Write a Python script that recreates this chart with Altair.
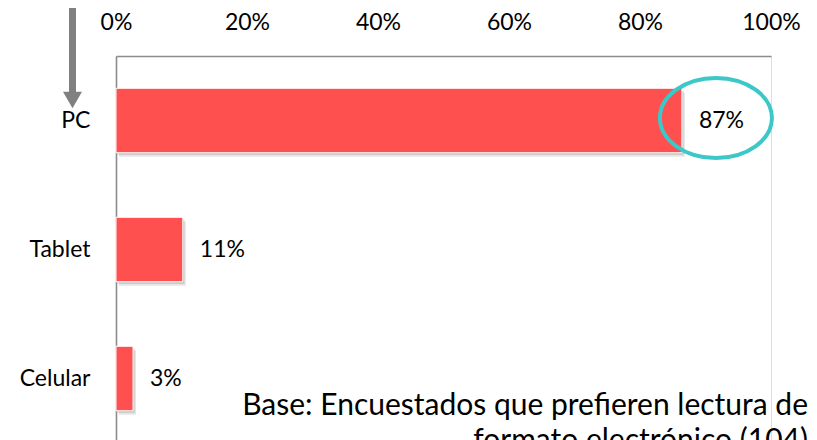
import altair as alt
import pandas as pd

# ---- data ----
categories = ["PC", "Tablet", "Celular"]
shares = [0.864, 0.102, 0.026]
share_labels = ["87%", "11%", "3%"]
x_ticks = [0, 0.2, 0.4, 0.6, 0.8, 1.0]
note_lines = ["Base: Encuestados que prefieren lectura de", "formato electrónico (104)"]
highlight = ["PC"]

df = pd.DataFrame({"device": categories, "share": shares, "label": share_labels})
df_hl = df[df["device"].isin(highlight)]
one = pd.DataFrame({"k": [0]})

FONT = "Lato"
RED = "#FF5050"
TEAL = "#3CC8C8"
GRAY = "#8C8C8C"

x_enc = alt.X(
    "share:Q",
    scale=alt.Scale(domain=[0, 1], nice=False, zero=True),
    axis=alt.Axis(
        orient="top", values=x_ticks, format=".0%", title=None, grid=False,
        ticks=False, tickSize=0, labelPadding=27, labelBaseline="alphabetic",
        labelFontSize=23, labelColor="#000000", labelFont=FONT, labelFlush=False,
        domainColor=GRAY, domainWidth=1.6,
    ),
)
y_enc = alt.Y(
    "device:N",
    sort=categories,
    scale=alt.Scale(paddingInner=0.5, paddingOuter=0.25),
    axis=alt.Axis(
        title=None, ticks=False, tickSize=0, labelPadding=26,
        labelFontSize=23, labelColor="#000000", labelFont=FONT,
        domainColor=GRAY, domainWidth=1.6,
    ),
)

base = alt.Chart(df)

shadow1 = base.mark_bar(color="#000000", opacity=0.10, xOffset=3, yOffset=4).encode(x=x_enc, y=y_enc)
shadow2 = base.mark_bar(color="#000000", opacity=0.14, xOffset=1.5, yOffset=2).encode(x=x_enc, y=y_enc)
bars = base.mark_bar(color=RED, stroke="#FFFFFF", strokeWidth=1).encode(x=x_enc, y=y_enc)

labels = base.mark_text(
    align="left", baseline="middle", dx=17, font=FONT, fontSize=23, color="#000000"
).encode(x=x_enc, y=y_enc, text="label:N")

ellipse = alt.Chart(df_hl).mark_point(
    shape="M -1 0 A 1 0.714 0 1 0 1 0 A 1 0.714 0 1 0 -1 0 Z",
    size=12544, filled=False, stroke=TEAL, strokeWidth=4, opacity=1,
    xOffset=34, yOffset=-2.5,
).encode(x=x_enc, y=y_enc)

arrow_shaft = alt.Chart(one).mark_rule(color="#808080", strokeWidth=7).encode(
    x=alt.value(-43.5), y=alt.value(-48), y2=alt.value(38)
)
arrow_head = alt.Chart(one).mark_point(
    shape="triangle-down", size=361, filled=True, color="#808080", opacity=1
).encode(x=alt.value(-43.5), y=alt.value(44))

note = alt.Chart(one).mark_text(
    text=note_lines, align="right", baseline="alphabetic", lineHeight=35,
    font=FONT, fontSize=30, color="#000000",
).encode(x=alt.value(692), y=alt.value(359))

chart = alt.layer(
    shadow1, shadow2, bars, labels, ellipse, arrow_shaft, arrow_head, note
).properties(
    width=655,
    height=387,
    padding={"left": 108, "top": 48, "right": 38, "bottom": 0},
    autosize=alt.AutoSizeParams(type="none"),
).configure_view(strokeWidth=0).configure(font=FONT)

chart.save("out.html", embed_options={"renderer": "svg", "actions": False})
